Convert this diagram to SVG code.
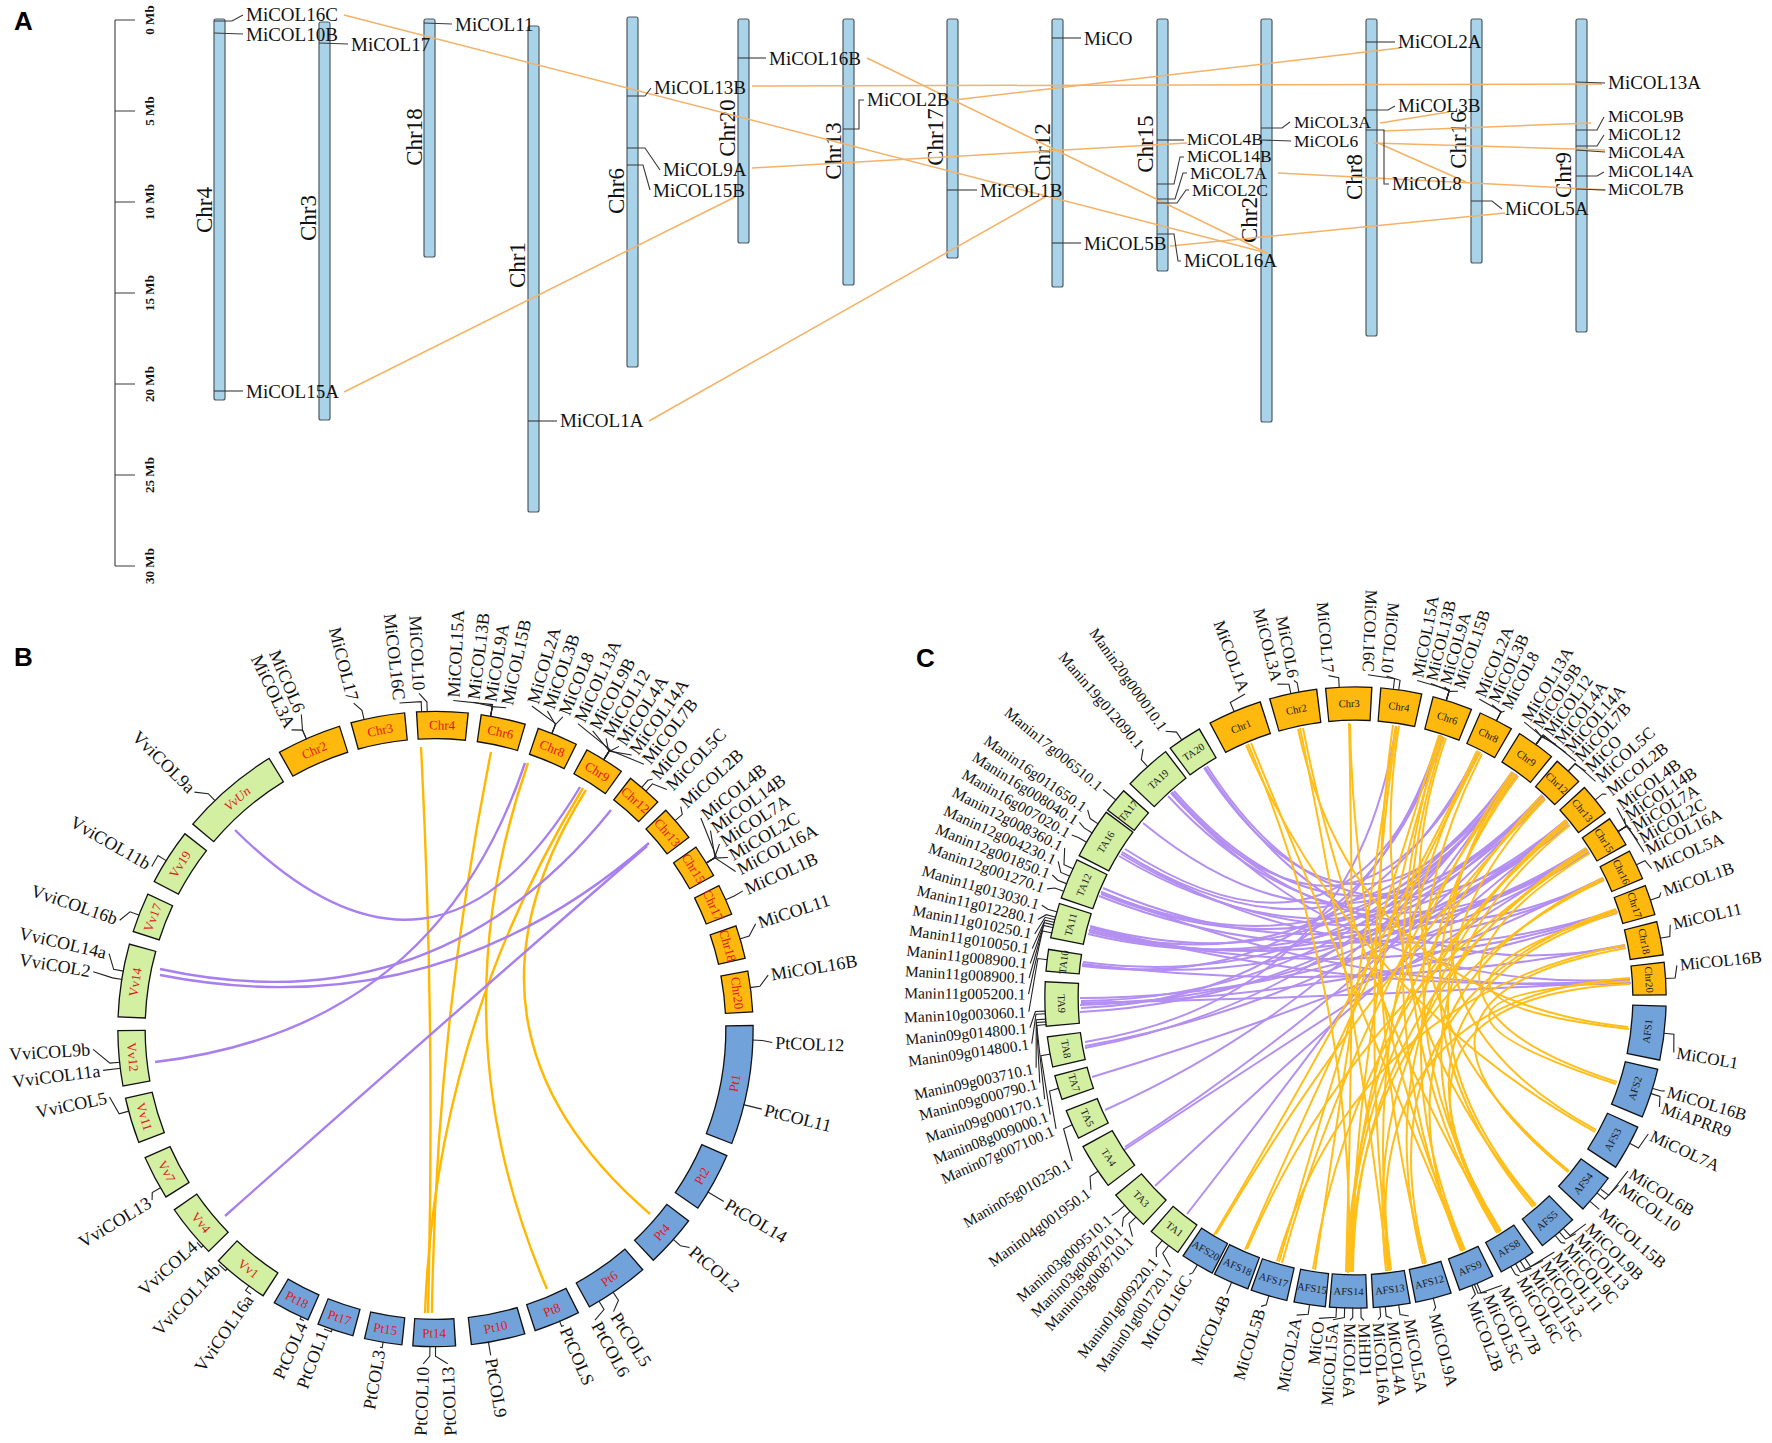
<svg xmlns="http://www.w3.org/2000/svg" width="1772" height="1443" viewBox="0 0 1772 1443">
<style>
.t{font-family:"Liberation Serif","Times New Roman",serif;fill:#111}
.ga{font-size:19px}
.gs{font-size:17.5px}
.gc{font-size:23px}
.sc{font-size:13px;font-weight:bold}
.pl{font-family:"Liberation Sans",Arial,sans-serif;font-weight:bold;font-size:26px;fill:#000}
.bl{font-size:18px;dominant-baseline:central}
.cm{font-size:17px;dominant-baseline:central}
.cn{font-size:15.5px;dominant-baseline:central}
.sb{font-size:13px;fill:#e3171b;text-anchor:middle;dominant-baseline:central}
.s2{font-size:10.5px;fill:#1a1a1a;text-anchor:middle;dominant-baseline:central}
.ld{fill:none;stroke:#222;stroke-width:1.1}
.bar{fill:#a9d3e8;stroke:#4f5a63;stroke-width:1.2}
.tk{fill:none;stroke:#3a3a3a;stroke-width:1.1}
.ln{fill:none;stroke:#f5b165;stroke-width:1.5}
.k{fill:none;stroke:#111}
.mo{fill:none;stroke:#ffb80d}
.gr{fill:none;stroke:#d3efa1}
.bu{fill:none;stroke:#72a2da}
.lo{fill:none;stroke:#ffb700;stroke-width:2.4}
.lp{fill:none;stroke:#a77ff0;stroke-width:2.4}
.lo2{fill:none;stroke:#ffbe1a;stroke-width:2}
.lp2{fill:none;stroke:#b48ff2;stroke-width:2}
.e{text-anchor:end}
</style>
<rect width="1772" height="1443" fill="#fff"/>

<!-- ================= PANEL A ================= -->
<text class="pl" x="14" y="30">A</text>
<g id="scale">
<path class="tk" d="M115 20V566M115 20H135M115 111H135M115 202H135M115 293H135M115 384H135M115 475H135M115 566H135"/>
<g class="t sc" text-anchor="middle">
<text transform="translate(154,20) rotate(-90)">0 Mb</text>
<text transform="translate(154,111) rotate(-90)">5 Mb</text>
<text transform="translate(154,202) rotate(-90)">10 Mb</text>
<text transform="translate(154,293) rotate(-90)">15 Mb</text>
<text transform="translate(154,384) rotate(-90)">20 Mb</text>
<text transform="translate(154,475) rotate(-90)">25 Mb</text>
<text transform="translate(154,566) rotate(-90)">30 Mb</text>
</g>
</g>

<g id="A-chromosomes">
<g id="A-Chr4"><rect class="bar" x="214" y="19" width="11" height="381" rx="2"/><text class="t gc" text-anchor="middle" transform="translate(212,210) rotate(-90)">Chr4</text></g>
<g id="A-Chr3"><rect class="bar" x="319" y="22" width="11" height="398" rx="2"/><text class="t gc" text-anchor="middle" transform="translate(316,218) rotate(-90)">Chr3</text></g>
<g id="A-Chr18"><rect class="bar" x="424" y="19" width="11" height="238" rx="2"/><text class="t gc" text-anchor="middle" transform="translate(422,137) rotate(-90)">Chr18</text></g>
<g id="A-Chr1"><rect class="bar" x="528" y="26" width="11" height="486" rx="2"/><text class="t gc" text-anchor="middle" transform="translate(525,265) rotate(-90)">Chr1</text></g>
<g id="A-Chr6"><rect class="bar" x="627" y="17" width="11" height="350" rx="2"/><text class="t gc" text-anchor="middle" transform="translate(624,191) rotate(-90)">Chr6</text></g>
<g id="A-Chr20"><rect class="bar" x="738" y="19" width="11" height="224" rx="2"/><text class="t gc" text-anchor="middle" transform="translate(735,128) rotate(-90)">Chr20</text></g>
<g id="A-Chr13"><rect class="bar" x="843" y="19" width="11" height="266" rx="2"/><text class="t gc" text-anchor="middle" transform="translate(841,151) rotate(-90)">Chr13</text></g>
<g id="A-Chr17"><rect class="bar" x="947" y="19" width="11" height="239" rx="2"/><text class="t gc" text-anchor="middle" transform="translate(943,137) rotate(-90)">Chr17</text></g>
<g id="A-Chr12"><rect class="bar" x="1052" y="19" width="11" height="268" rx="2"/><text class="t gc" text-anchor="middle" transform="translate(1050,152) rotate(-90)">Chr12</text></g>
<g id="A-Chr15"><rect class="bar" x="1157" y="19" width="11" height="252" rx="2"/><text class="t gc" text-anchor="middle" transform="translate(1153,144) rotate(-90)">Chr15</text></g>
<g id="A-Chr2"><rect class="bar" x="1261" y="19" width="11" height="403" rx="2"/><text class="t gc" text-anchor="middle" transform="translate(1257,220) rotate(-90)">Chr2</text></g>
<g id="A-Chr8"><rect class="bar" x="1366" y="19" width="11" height="317" rx="2"/><text class="t gc" text-anchor="middle" transform="translate(1362,177) rotate(-90)">Chr8</text></g>
<g id="A-Chr16"><rect class="bar" x="1471" y="19" width="11" height="244" rx="2"/><text class="t gc" text-anchor="middle" transform="translate(1466,140) rotate(-90)">Chr16</text></g>
<g id="A-Chr9"><rect class="bar" x="1576" y="19" width="11" height="313" rx="2"/><text class="t gc" text-anchor="middle" transform="translate(1571,175) rotate(-90)">Chr9</text></g>
</g>

<g id="A-connectors">
<path class="ln" d="M344 15L1267 253"/>
<path class="ln" d="M752 86L1602 84"/>
<path class="ln" d="M752 168L1187 143"/>
<path class="ln" d="M735 197L344 392"/>
<path class="ln" d="M649 421L1045 197"/>
<path class="ln" d="M867 58L1267 253"/>
<path class="ln" d="M954 100L1400 48"/>
<path class="ln" d="M1170 246L1505 213"/>
<path class="ln" d="M1278 173L1606 190"/>
<path class="ln" d="M1373 143L1605 150"/>
<path class="ln" d="M1383 131L1591 123"/>
<path class="ln" d="M1380 123L1449 112"/>
<path class="ln" d="M1378 143L1466 182"/>
</g>

<g id="A-genes">
<g class="tk">
<polyline points="214,21 232,21 243,15"/><polyline points="214,33 243,34"/><polyline points="214,391 243,391"/>
<polyline points="319,43 348,44"/><polyline points="424,23 452,24"/><polyline points="528,421 557,421"/>
<polyline points="627,96 645,96 651,88"/><polyline points="627,148 645,148 660,170"/><polyline points="627,165 643,165 650,190"/>
<polyline points="738,58 766,58"/><polyline points="843,129 859,129 859,100 864,100"/><polyline points="947,190 977,190"/>
<polyline points="1052,38 1081,38"/><polyline points="1052,243 1081,243"/>
<polyline points="1157,140 1184,140"/><polyline points="1157,184 1174,184 1180,157 1184,157"/><polyline points="1157,199 1175,199 1183,173 1187,173"/><polyline points="1157,203 1177,203 1186,190 1189,190"/><polyline points="1157,234 1174,234 1178,261 1181,261"/>
<polyline points="1261,128 1282,128 1290,122"/><polyline points="1261,140 1291,141"/>
<polyline points="1366,42 1395,42"/><polyline points="1366,110 1388,110 1395,106"/><polyline points="1366,130 1384,130 1384,184 1389,184"/>
<polyline points="1471,201 1492,201 1502,209"/>
<polyline points="1576,82 1605,83"/><polyline points="1576,130 1597,130 1604,117"/><polyline points="1576,146 1597,146 1604,135"/><polyline points="1576,150 1605,152"/><polyline points="1576,176 1597,176 1604,172"/><polyline points="1576,189 1605,190"/>
</g>
<g class="t ga">
<text x="246" y="21">MiCOL16C</text><text x="246" y="41">MiCOL10B</text><text x="246" y="398">MiCOL15A</text>
<text x="351" y="51">MiCOL17</text><text x="455" y="31">MiCOL11</text><text x="560" y="427">MiCOL1A</text>
<text x="654" y="94">MiCOL13B</text><text x="663" y="176">MiCOL9A</text><text x="653" y="197">MiCOL15B</text>
<text x="769" y="65">MiCOL16B</text><text x="867" y="106">MiCOL2B</text><text x="980" y="197">MiCOL1B</text>
<text x="1084" y="45">MiCO</text><text x="1084" y="250">MiCOL5B</text>
<text class="gs" x="1187" y="145">MiCOL4B</text><text class="gs" x="1187" y="162">MiCOL14B</text><text class="gs" x="1190" y="179">MiCOL7A</text><text class="gs" x="1192" y="196">MiCOL2C</text><text x="1184" y="267">MiCOL16A</text>
<text class="gs" x="1294" y="128">MiCOL3A</text><text class="gs" x="1294" y="147">MiCOL6</text>
<text x="1398" y="48">MiCOL2A</text><text x="1398" y="112">MiCOL3B</text><text x="1392" y="190">MiCOL8</text>
<text x="1505" y="215">MiCOL5A</text>
<text x="1608" y="89">MiCOL13A</text><text class="gs" x="1608" y="122">MiCOL9B</text><text class="gs" x="1608" y="140">MiCOL12</text><text class="gs" x="1608" y="158">MiCOL4A</text><text class="gs" x="1608" y="177">MiCOL14A</text><text class="gs" x="1608" y="195">MiCOL7B</text>
</g>
</g>

<!-- ================= PANEL B ================= -->
<text class="pl" x="14" y="666">B</text>
<g id="B-connectors">
<path class="lo" d="M421 747Q435.5 1029 428 1313"/>
<path class="lo" d="M491 752Q435.5 1029 432 1313"/>
<path class="lo" d="M583 788Q435.5 1029 425 1313"/>
<path class="lo" d="M528 763Q435.5 1029 547 1289"/>
<path class="lo" d="M586 790Q435.5 1029 650 1214"/>
<path class="lp" d="M235 830Q435.5 1029 580 787"/>
<path class="lp" d="M160 969Q435.5 1029 611 810"/>
<path class="lp" d="M160 975Q435.5 1029 649 843"/>
<path class="lp" d="M155 1062Q435.5 1029 525 763"/>
<path class="lp" d="M225 1216Q435.5 1029 647 846"/>
</g>
<g transform="translate(435.5,1029)">
<g id="B-segments">
<g id="B-Chr2"><circle class="k" r="304" stroke-width="28.6" stroke-dasharray="64.15 3000" transform="rotate(240.45)"/><circle class="mo" r="304" stroke-width="26" stroke-dasharray="61.55 3000" transform="rotate(240.7)"/><text class="t sb" transform="rotate(336.5)" y="-304">Chr2</text></g>
<g id="B-Chr3"><circle class="k" r="304" stroke-width="28.6" stroke-dasharray="53.54 3000" transform="rotate(254.45)"/><circle class="mo" r="304" stroke-width="26" stroke-dasharray="50.94 3000" transform="rotate(254.7)"/><text class="t sb" transform="rotate(349.5)" y="-304">Chr3</text></g>
<g id="B-Chr4"><circle class="k" r="304" stroke-width="28.6" stroke-dasharray="50.88 3000" transform="rotate(-93.55)"/><circle class="mo" r="304" stroke-width="26" stroke-dasharray="48.28 3000" transform="rotate(-93.3)"/><text class="t sb" transform="rotate(1.25)" y="-304">Chr4</text></g>
<g id="B-Chr6"><circle class="k" r="304" stroke-width="28.6" stroke-dasharray="44.52 3000" transform="rotate(-81.85)"/><circle class="mo" r="304" stroke-width="26" stroke-dasharray="41.92 3000" transform="rotate(-81.6)"/><text class="t sb" transform="rotate(12.35)" y="-304">Chr6</text></g>
<g id="B-Chr8"><circle class="k" r="304" stroke-width="28.6" stroke-dasharray="40.8 3000" transform="rotate(-71.25)"/><circle class="mo" r="304" stroke-width="26" stroke-dasharray="38.2 3000" transform="rotate(-71)"/><text class="t sb" transform="rotate(22.6)" y="-304">Chr8</text></g>
<g id="B-Chr9"><circle class="k" r="304" stroke-width="28.6" stroke-dasharray="40.27 3000" transform="rotate(-61.65)"/><circle class="mo" r="304" stroke-width="26" stroke-dasharray="37.67 3000" transform="rotate(-61.4)"/><text class="t sb" transform="rotate(32.15)" y="-304">Chr9</text></g>
<g id="B-Chr12"><circle class="k" r="304" stroke-width="28.6" stroke-dasharray="36.03 3000" transform="rotate(-52.25)"/><circle class="mo" r="304" stroke-width="26" stroke-dasharray="33.43 3000" transform="rotate(-52)"/><text class="t sb" transform="rotate(41.15)" y="-304">Chr12</text></g>
<g id="B-Chr13"><circle class="k" r="304" stroke-width="28.6" stroke-dasharray="35.5 3000" transform="rotate(-43.65)"/><circle class="mo" r="304" stroke-width="26" stroke-dasharray="32.9 3000" transform="rotate(-43.4)"/><text class="t sb" transform="rotate(49.7)" y="-304">Chr13</text></g>
<g id="B-Chr15"><circle class="k" r="304" stroke-width="28.6" stroke-dasharray="33.37 3000" transform="rotate(-35.05)"/><circle class="mo" r="304" stroke-width="26" stroke-dasharray="30.77 3000" transform="rotate(-34.8)"/><text class="t sb" transform="rotate(58.1)" y="-304">Chr15</text></g>
<g id="B-Chr17"><circle class="k" r="304" stroke-width="28.6" stroke-dasharray="31.25 3000" transform="rotate(-26.95)"/><circle class="mo" r="304" stroke-width="26" stroke-dasharray="28.65 3000" transform="rotate(-26.7)"/><text class="t sb" transform="rotate(66)" y="-304">Chr17</text></g>
<g id="B-Chr18"><circle class="k" r="304" stroke-width="28.6" stroke-dasharray="33.37 3000" transform="rotate(-19.05)"/><circle class="mo" r="304" stroke-width="26" stroke-dasharray="30.77 3000" transform="rotate(-18.8)"/><text class="t sb" transform="rotate(74.1)" y="-304">Chr18</text></g>
<g id="B-Chr20"><circle class="k" r="304" stroke-width="28.6" stroke-dasharray="40.8 3000" transform="rotate(-10.65)"/><circle class="mo" r="304" stroke-width="26" stroke-dasharray="38.2 3000" transform="rotate(-10.4)"/><text class="t sb" transform="rotate(83.2)" y="-304">Chr20</text></g>
<g id="B-Pt1"><circle class="k" r="304" stroke-width="28.6" stroke-dasharray="116.67 3000" transform="rotate(-0.75)"/><circle class="bu" r="304" stroke-width="26" stroke-dasharray="114.07 3000" transform="rotate(-0.5)"/><text class="t sb" transform="rotate(-79.75)" y="304">Pt1</text></g>
<g id="B-Pt2"><circle class="k" r="304" stroke-width="28.6" stroke-dasharray="58.84 3000" transform="rotate(23.35)"/><circle class="bu" r="304" stroke-width="26" stroke-dasharray="56.24 3000" transform="rotate(23.6)"/><text class="t sb" transform="rotate(-61.1)" y="304">Pt2</text></g>
<g id="B-Pt4"><circle class="k" r="304" stroke-width="28.6" stroke-dasharray="51.94 3000" transform="rotate(37.05)"/><circle class="bu" r="304" stroke-width="26" stroke-dasharray="49.34 3000" transform="rotate(37.3)"/><text class="t sb" transform="rotate(-48.05)" y="304">Pt4</text></g>
<g id="B-Pt6"><circle class="k" r="304" stroke-width="28.6" stroke-dasharray="63.62 3000" transform="rotate(49.15)"/><circle class="bu" r="304" stroke-width="26" stroke-dasharray="61.02 3000" transform="rotate(49.4)"/><text class="t sb" transform="rotate(-34.85)" y="304">Pt6</text></g>
<g id="B-Pt8"><circle class="k" r="304" stroke-width="28.6" stroke-dasharray="46.11 3000" transform="rotate(63.15)"/><circle class="bu" r="304" stroke-width="26" stroke-dasharray="43.51 3000" transform="rotate(63.4)"/><text class="t sb" transform="rotate(-22.5)" y="304">Pt8</text></g>
<g id="B-Pt10"><circle class="k" r="304" stroke-width="28.6" stroke-dasharray="53.54 3000" transform="rotate(73.55)"/><circle class="bu" r="304" stroke-width="26" stroke-dasharray="50.94 3000" transform="rotate(73.8)"/><text class="t sb" transform="rotate(-11.4)" y="304">Pt10</text></g>
<g id="B-Pt14"><circle class="k" r="304" stroke-width="28.6" stroke-dasharray="42.39 3000" transform="rotate(86.25)"/><circle class="bu" r="304" stroke-width="26" stroke-dasharray="39.79 3000" transform="rotate(86.5)"/><text class="t sb" transform="rotate(0.25)" y="304">Pt14</text></g>
<g id="B-Pt15"><circle class="k" r="304" stroke-width="28.6" stroke-dasharray="37.62 3000" transform="rotate(95.95)"/><circle class="bu" r="304" stroke-width="26" stroke-dasharray="35.02 3000" transform="rotate(96.2)"/><text class="t sb" transform="rotate(9.5)" y="304">Pt15</text></g>
<g id="B-Pt17"><circle class="k" r="304" stroke-width="28.6" stroke-dasharray="36.56 3000" transform="rotate(104.95)"/><circle class="bu" r="304" stroke-width="26" stroke-dasharray="33.96 3000" transform="rotate(105.2)"/><text class="t sb" transform="rotate(18.4)" y="304">Pt17</text></g>
<g id="B-Pt18"><circle class="k" r="304" stroke-width="28.6" stroke-dasharray="37.62 3000" transform="rotate(113.55)"/><circle class="bu" r="304" stroke-width="26" stroke-dasharray="35.02 3000" transform="rotate(113.8)"/><text class="t sb" transform="rotate(27.1)" y="304">Pt18</text></g>
<g id="B-Vv1"><circle class="k" r="304" stroke-width="28.6" stroke-dasharray="55.66 3000" transform="rotate(122.75)"/><circle class="gr" r="304" stroke-width="26" stroke-dasharray="53.06 3000" transform="rotate(123)"/><text class="t sb" transform="rotate(38)" y="304">Vv1</text></g>
<g id="B-Vv4"><circle class="k" r="304" stroke-width="28.6" stroke-dasharray="53.01 3000" transform="rotate(135.45)"/><circle class="gr" r="304" stroke-width="26" stroke-dasharray="50.41 3000" transform="rotate(135.7)"/><text class="t sb" transform="rotate(50.45)" y="304">Vv4</text></g>
<g id="B-Vv7"><circle class="k" r="304" stroke-width="28.6" stroke-dasharray="43.99 3000" transform="rotate(147.95)"/><circle class="gr" r="304" stroke-width="26" stroke-dasharray="41.39 3000" transform="rotate(148.2)"/><text class="t sb" transform="rotate(62.1)" y="304">Vv7</text></g>
<g id="B-Vv11"><circle class="k" r="304" stroke-width="28.6" stroke-dasharray="45.58 3000" transform="rotate(158.95)"/><circle class="gr" r="304" stroke-width="26" stroke-dasharray="42.98 3000" transform="rotate(159.2)"/><text class="t sb" transform="rotate(73.25)" y="304">Vv11</text></g>
<g id="B-Vv12"><circle class="k" r="304" stroke-width="28.6" stroke-dasharray="54.6 3000" transform="rotate(169.55)"/><circle class="gr" r="304" stroke-width="26" stroke-dasharray="52 3000" transform="rotate(169.8)"/><text class="t sb" transform="rotate(84.7)" y="304">Vv12</text></g>
<g id="B-Vv14"><circle class="k" r="304" stroke-width="28.6" stroke-dasharray="72.11 3000" transform="rotate(182.05)"/><circle class="gr" r="304" stroke-width="26" stroke-dasharray="69.51 3000" transform="rotate(182.3)"/><text class="t sb" transform="rotate(278.85)" y="-304">Vv14</text></g>
<g id="B-Vv17"><circle class="k" r="304" stroke-width="28.6" stroke-dasharray="39.74 3000" transform="rotate(197.75)"/><circle class="gr" r="304" stroke-width="26" stroke-dasharray="37.14 3000" transform="rotate(198)"/><text class="t sb" transform="rotate(291.5)" y="-304">Vv17</text></g>
<g id="B-Vv19"><circle class="k" r="304" stroke-width="28.6" stroke-dasharray="55.66 3000" transform="rotate(207.55)"/><circle class="gr" r="304" stroke-width="26" stroke-dasharray="53.06 3000" transform="rotate(207.8)"/><text class="t sb" transform="rotate(302.8)" y="-304">Vv19</text></g>
<g id="B-VvUn"><circle class="k" r="304" stroke-width="28.6" stroke-dasharray="98.1 3000" transform="rotate(220.05)"/><circle class="gr" r="304" stroke-width="26" stroke-dasharray="95.5 3000" transform="rotate(220.3)"/><text class="t sb" font-style="italic" transform="rotate(319.3)" y="-304">VvUn</text></g>
</g>
<g id="B-labels">
<g transform="rotate(-86.9)"><polyline class="ld" points="317,38.2 327,39.4 329,0"/><text class="t bl" x="332">MiCOL15A</text></g>
<g transform="rotate(-83.4)"><polyline class="ld" points="317,18.8 327,19.4 329,0"/><text class="t bl" x="332">MiCOL13B</text></g>
<g transform="rotate(-80.5)"><polyline class="ld" points="317,2.8 327,2.9 329,0"/><text class="t bl" x="332">MiCOL9A</text></g>
<g transform="rotate(-77.6)"><polyline class="ld" points="317,-13.3 327,-13.7 329,0"/><text class="t bl" x="332">MiCOL15B</text></g>
<g transform="rotate(-73.4)"><polyline class="ld" points="317,27.1 327,28 337,0"/><text class="t bl" x="340">MiCOL2A</text></g>
<g transform="rotate(-70.6)"><polyline class="ld" points="317,11.6 327,12 337,0"/><text class="t bl" x="340">MiCOL3B</text></g>
<g transform="rotate(-67.8)"><polyline class="ld" points="317,-3.9 327,-4 337,0"/><text class="t bl" x="340">MiCOL8</text></g>
<g transform="rotate(-65)"><polyline class="ld" points="317,38.7 327,40 337,0"/><text class="t bl" x="340">MiCOL13A</text></g>
<g transform="rotate(-62.2)"><polyline class="ld" points="317,23.2 327,24 337,0"/><text class="t bl" x="340">MiCOL9B</text></g>
<g transform="rotate(-59.6)"><polyline class="ld" points="317,8.9 327,9.1 337,0"/><text class="t bl" x="340">MiCOL12</text></g>
<g transform="rotate(-57)"><polyline class="ld" points="317,-5.5 327,-5.7 337,0"/><text class="t bl" x="340">MiCOL4A</text></g>
<g transform="rotate(-54.4)"><polyline class="ld" points="317,-19.9 327,-20.5 337,0"/><text class="t bl" x="340">MiCOL14A</text></g>
<g transform="rotate(-51.8)"><polyline class="ld" points="317,-34.3 327,-35.4 337,0"/><text class="t bl" x="340">MiCOL7B</text></g>
<g transform="rotate(-49)"><polyline class="ld" points="317,-2.8 327,-2.9 331,0"/><text class="t bl" x="334">MiCO</text></g>
<g transform="rotate(-46)"><polyline class="ld" points="317,-13.8 327,-14.3 333,0"/><text class="t bl" x="336">MiCOL5C</text></g>
<g transform="rotate(-42.2)"><polyline class="ld" points="317,6.6 327,6.8 331,0"/><text class="t bl" x="334">MiCOL2B</text></g>
<g transform="rotate(-38.5)"><polyline class="ld" points="317,38.7 327,40 339,0"/><text class="t bl" x="342">MiCOL4B</text></g>
<g transform="rotate(-35.8)"><polyline class="ld" points="317,23.8 327,24.5 339,0"/><text class="t bl" x="342">MiCOL14B</text></g>
<g transform="rotate(-33.1)"><polyline class="ld" points="317,8.9 327,9.1 339,0"/><text class="t bl" x="342">MiCOL7A</text></g>
<g transform="rotate(-30.4)"><polyline class="ld" points="317,-6.1 327,-6.3 339,0"/><text class="t bl" x="342">MiCOL2C</text></g>
<g transform="rotate(-27.7)"><polyline class="ld" points="317,-21 327,-21.7 339,0"/><text class="t bl" x="342">MiCOL16A</text></g>
<g transform="rotate(-24.2)"><polyline class="ld" points="317,1.1 327,1.1 337,0"/><text class="t bl" x="340">MiCOL1B</text></g>
<g transform="rotate(-18.2)"><polyline class="ld" points="317,9.4 327,9.7 337,0"/><text class="t bl" x="340">MiCOL11</text></g>
<g transform="rotate(-9.2)"><polyline class="ld" points="317,9.4 327,9.7 337,0"/><text class="t bl" x="340">MiCOL16B</text></g>
<g transform="rotate(2.3)"><polyline class="ld" points="317,-1.7 327,-1.7 337,0"/><text class="t bl" x="340">PtCOL12</text></g>
<g transform="rotate(13.8)"><polyline class="ld" points="317,0 336,0"/><text class="t bl" x="339">PtCOL11</text></g>
<g transform="rotate(30.9)"><polyline class="ld" points="317,0 336,0"/><text class="t bl" x="339">PtCOL14</text></g>
<g transform="rotate(40.7)"><polyline class="ld" points="317,4.4 327,4.6 335,0"/><text class="t bl" x="338">PtCOL2</text></g>
<g transform="rotate(57.8)"><polyline class="ld" points="317,-10 327,-10.3 334,0"/><text class="t bl" x="337">PtCOL5</text></g>
<g transform="rotate(61.3)"><polyline class="ld" points="317,-12.7 327,-13.1 332,0"/><text class="t bl" x="335">PtCOL6</text></g>
<g transform="rotate(66.6)"><polyline class="ld" points="317,2.2 323,2.3 323,0"/><text class="t bl" x="326">PtCOLS</text></g>
<g transform="rotate(80.4)"><polyline class="ld" points="317,0 331,0"/><text class="t bl" x="334">PtCOL9</text></g>
<g transform="rotate(87.9)"><polyline class="ld" points="317,11.6 327,12 335,0"/><text class="t bl e" transform="rotate(180)" x="-338">PtCOL13</text></g>
<g transform="rotate(92.1)"><polyline class="ld" points="317,-6.1 327,-6.3 335,0"/><text class="t bl e" transform="rotate(180)" x="-338">PtCOL10</text></g>
<g transform="rotate(99.9)"><polyline class="ld" points="317,-2.2 323,-2.3 323,0"/><text class="t bl e" transform="rotate(180)" x="-326">PtCOL3</text></g>
<g transform="rotate(110.4)"><polyline class="ld" points="317,-7.7 320,-8 320,0"/><text class="t bl e" transform="rotate(180)" x="-323">PtCOL1</text></g>
<g transform="rotate(114.3)"><polyline class="ld" points="317,3.9 320,4 320,0"/><text class="t bl e" transform="rotate(180)" x="-323">PtCOL4</text></g>
<g transform="rotate(124.8)"><polyline class="ld" points="317,6.6 323,6.8 323,0"/><text class="t bl e" transform="rotate(180)" x="-326">VviCOL16a</text></g>
<g transform="rotate(132.6)"><polyline class="ld" points="317,-8.9 320,-9.1 320,0"/><text class="t bl e" transform="rotate(180)" x="-323">VviCOL14b</text></g>
<g transform="rotate(138.2)"><polyline class="ld" points="317,-6.6 320,-6.8 320,0"/><text class="t bl e" transform="rotate(180)" x="-323">VviCOL4</text></g>
<g transform="rotate(148.9)"><polyline class="ld" points="317,6.1 327,6.3 331,0"/><text class="t bl e" transform="rotate(180)" x="-334">VviCOL13</text></g>
<g transform="rotate(168.2)"><polyline class="ld" points="317,-17.7 327,-18.3 333,0"/><text class="t bl e" transform="rotate(180)" x="-336">VviCOL5</text></g>
<g transform="rotate(172.9)"><polyline class="ld" points="317,0 335,0"/><text class="t bl e" transform="rotate(180)" x="-338">VviCOL11a</text></g>
<g transform="rotate(176.6)"><polyline class="ld" points="317,-14.4 327,-14.8 343,0"/><text class="t bl e" transform="rotate(180)" x="-346">VviCOL9b</text></g>
<g transform="rotate(189.5)"><polyline class="ld" points="317,-2.8 327,-2.9 347,0"/><text class="t bl e" transform="rotate(180)" x="-350">VviCOL2</text></g>
<g transform="rotate(193)"><polyline class="ld" points="317,-13.8 327,-14.3 335,0"/><text class="t bl e" transform="rotate(180)" x="-338">VviCOL14a</text></g>
<g transform="rotate(199)"><polyline class="ld" points="317,11.1 327,11.4 334,0"/><text class="t bl e" transform="rotate(180)" x="-337">VviCOL16b</text></g>
<g transform="rotate(209.8)"><polyline class="ld" points="317,12.2 327,12.6 327,0"/><text class="t bl e" transform="rotate(180)" x="-330">VviCOL11b</text></g>
<g transform="rotate(224.5)"><polyline class="ld" points="317,8.3 327,8.6 338,0"/><text class="t bl e" transform="rotate(180)" x="-341">VviCOL9a</text></g>
<g transform="rotate(244.3)"><polyline class="ld" points="317,9.4 327,9.7 332,0"/><text class="t bl e" transform="rotate(180)" x="-335">MiCOL3A</text></g>
<g transform="rotate(246.9)"><polyline class="ld" points="317,-5 327,-5.1 342,0"/><text class="t bl e" transform="rotate(180)" x="-345">MiCOL6</text></g>
<g transform="rotate(255.9)"><polyline class="ld" points="317,6.1 327,6.3 336,0"/><text class="t bl e" transform="rotate(180)" x="-339">MiCOL17</text></g>
<g transform="rotate(263.7)"><polyline class="ld" points="317,21 327,21.7 328,0"/><text class="t bl e" transform="rotate(180)" x="-331">MiCOL16C</text></g>
<g transform="rotate(267.2)"><polyline class="ld" points="317,7.2 327,7.4 336,0"/><text class="t bl e" transform="rotate(180)" x="-339">MiCOL10</text></g>
</g>
</g>

<!-- ================= PANEL C ================= -->
<text class="pl" x="916" y="667">C</text>
<g id="C-connectors">
<g class="lp2">
<path d="M1204 768Q1355.5 997.5 1515 774"/>
<path d="M1207 766Q1355.5 997.5 1568 823"/>
<path d="M1171 793Q1355.5 997.5 1480 752"/>
<path d="M1174 791Q1355.5 997.5 1544 797"/>
<path d="M1168 796Q1355.5 997.5 1588 851"/>
<path d="M1122 852Q1355.5 997.5 1512 772"/>
<path d="M1125 849Q1355.5 997.5 1442 736"/>
<path d="M1119 856Q1355.5 997.5 1566 820"/>
<path d="M1143 823Q1355.5 997.5 1542 795"/>
<path d="M1101 892Q1355.5 997.5 1518 776"/>
<path d="M1103 888Q1355.5 997.5 1586 848"/>
<path d="M1099 896Q1355.5 997.5 1604 880"/>
<path d="M1089 930Q1355.5 997.5 1478 751"/>
<path d="M1090 926Q1355.5 997.5 1513 772"/>
<path d="M1088 934Q1355.5 997.5 1545 799"/>
<path d="M1090 928Q1355.5 997.5 1617 911"/>
<path d="M1089 932Q1355.5 997.5 1569 825"/>
<path d="M1082 964Q1355.5 997.5 1625 945"/>
<path d="M1083 962Q1355.5 997.5 1516 775"/>
<path d="M1081 1003Q1355.5 997.5 1630 981"/>
<path d="M1080 998Q1355.5 997.5 1589 853"/>
<path d="M1081 1008Q1355.5 997.5 1440 735"/>
<path d="M1080 1012Q1355.5 997.5 1543 796"/>
<path d="M1085 1046Q1355.5 997.5 1567 822"/>
<path d="M1085 1042Q1355.5 997.5 1396 726"/>
<path d="M1092 1077Q1355.5 997.5 1603 878"/>
<path d="M1105 1110Q1355.5 997.5 1514 773"/>
<path d="M1125 1147Q1355.5 997.5 1544 798"/>
<path d="M1155 1186Q1355.5 997.5 1568 823"/>
<path d="M1187 1214Q1355.5 997.5 1515 774"/>
<path d="M1171 793Q1355.5 997.5 1630 979"/>
<path d="M1122 852Q1355.5 997.5 1616 910"/>
<path d="M1101 892Q1355.5 997.5 1631 983"/>
<path d="M1082 966Q1355.5 997.5 1443 737"/>
<path d="M1081 1003Q1355.5 997.5 1617 913"/>
<path d="M1124 1150Q1355.5 997.5 1588 850"/>
<path d="M1089 930Q1355.5 997.5 1587 849"/>
<path d="M1091 927Q1355.5 997.5 1630 980"/>
<path d="M1081 1001Q1355.5 997.5 1517 775"/>
<path d="M1080 1005Q1355.5 997.5 1567 821"/>
<path d="M1101 894Q1355.5 997.5 1543 796"/>
<path d="M1121 854Q1355.5 997.5 1589 852"/>
<path d="M1082 965Q1355.5 997.5 1566 822"/>
<path d="M1085 1048Q1355.5 997.5 1516 774"/>
<path d="M1172 792Q1355.5 997.5 1604 879"/>
<path d="M1205 767Q1355.5 997.5 1625 946"/>
</g>
<g class="lo2">
<path d="M1248 744Q1355.5 997.5 1349 1272"/>
<path d="M1251 743Q1355.5 997.5 1463 1251"/>
<path d="M1300 728Q1355.5 997.5 1388 1271"/>
<path d="M1303 728Q1355.5 997.5 1499 1232"/>
<path d="M1349 723Q1355.5 997.5 1346 1272"/>
<path d="M1396 726Q1355.5 997.5 1315 1270"/>
<path d="M1393 725Q1355.5 997.5 1425 1264"/>
<path d="M1399 726Q1355.5 997.5 1535 1206"/>
<path d="M1442 736Q1355.5 997.5 1352 1272"/>
<path d="M1439 735Q1355.5 997.5 1279 1262"/>
<path d="M1444 737Q1355.5 997.5 1497 1233"/>
<path d="M1446 738Q1355.5 997.5 1569 1171"/>
<path d="M1480 752Q1355.5 997.5 1245 1250"/>
<path d="M1477 751Q1355.5 997.5 1391 1270"/>
<path d="M1482 754Q1355.5 997.5 1501 1231"/>
<path d="M1515 774Q1355.5 997.5 1282 1263"/>
<path d="M1512 772Q1355.5 997.5 1350 1272"/>
<path d="M1518 776Q1355.5 997.5 1465 1250"/>
<path d="M1516 775Q1355.5 997.5 1533 1207"/>
<path d="M1514 773Q1355.5 997.5 1596 1130"/>
<path d="M1544 797Q1355.5 997.5 1216 1234"/>
<path d="M1542 795Q1355.5 997.5 1347 1272"/>
<path d="M1568 823Q1355.5 997.5 1313 1269"/>
<path d="M1566 820Q1355.5 997.5 1423 1264"/>
<path d="M1570 825Q1355.5 997.5 1498 1232"/>
<path d="M1588 851Q1355.5 997.5 1247 1249"/>
<path d="M1586 848Q1355.5 997.5 1386 1271"/>
<path d="M1590 853Q1355.5 997.5 1617 1082"/>
<path d="M1604 880Q1355.5 997.5 1351 1272"/>
<path d="M1603 878Q1355.5 997.5 1461 1251"/>
<path d="M1617 911Q1355.5 997.5 1629 1029"/>
<path d="M1616 909Q1355.5 997.5 1426 1263"/>
<path d="M1625 945Q1355.5 997.5 1277 1261"/>
<path d="M1626 948Q1355.5 997.5 1568 1172"/>
<path d="M1630 981Q1355.5 997.5 1616 1084"/>
<path d="M1630 978Q1355.5 997.5 1389 1271"/>
<path d="M1630 984Q1355.5 997.5 1499 1233"/>
<path d="M1246 745Q1355.5 997.5 1595 1132"/>
<path d="M1545 799Q1355.5 997.5 1536 1205"/>
<path d="M1298 729Q1355.5 997.5 1628 1027"/>
<path d="M1478 751Q1355.5 997.5 1214 1235"/>
<path d="M1441 735Q1355.5 997.5 1462 1251"/>
<path d="M1567 821Q1355.5 997.5 1348 1273"/>
<path d="M1587 850Q1355.5 997.5 1353 1272"/>
<path d="M1397 727Q1355.5 997.5 1390 1271"/>
<path d="M1350 724Q1355.5 997.5 1464 1250"/>
<path d="M1618 912Q1355.5 997.5 1500 1232"/>
</g>
</g>
<g transform="translate(1355.5,997.5)">
<g id="C-segments">
<g id="C-Chr3"><circle class="k" r="294" stroke-width="34.6" stroke-dasharray="45.19 3000" transform="rotate(-95.65)"/><circle class="mo" r="294" stroke-width="32" stroke-dasharray="42.59 3000" transform="rotate(-95.4)"/><text class="t s2" transform="rotate(-1.25)" y="-294">Chr3</text></g>
<g id="C-Chr4"><circle class="k" r="294" stroke-width="34.6" stroke-dasharray="40.57 3000" transform="rotate(-85.45)"/><circle class="mo" r="294" stroke-width="32" stroke-dasharray="37.97 3000" transform="rotate(-85.2)"/><text class="t s2" transform="rotate(8.5)" y="-294">Chr4</text></g>
<g id="C-Chr6"><circle class="k" r="294" stroke-width="34.6" stroke-dasharray="39.55 3000" transform="rotate(-75.65)"/><circle class="mo" r="294" stroke-width="32" stroke-dasharray="36.95 3000" transform="rotate(-75.4)"/><text class="t s2" transform="rotate(18.2)" y="-294">Chr6</text></g>
<g id="C-Chr8"><circle class="k" r="294" stroke-width="34.6" stroke-dasharray="34.41 3000" transform="rotate(-66.45)"/><circle class="mo" r="294" stroke-width="32" stroke-dasharray="31.81 3000" transform="rotate(-66.2)"/><text class="t s2" transform="rotate(26.9)" y="-294">Chr8</text></g>
<g id="C-Chr9"><circle class="k" r="294" stroke-width="34.6" stroke-dasharray="38.52 3000" transform="rotate(-58.25)"/><circle class="mo" r="294" stroke-width="32" stroke-dasharray="35.92 3000" transform="rotate(-58)"/><text class="t s2" transform="rotate(35.5)" y="-294">Chr9</text></g>
<g id="C-Chr12"><circle class="k" r="294" stroke-width="34.6" stroke-dasharray="29.28 3000" transform="rotate(-49.65)"/><circle class="mo" r="294" stroke-width="32" stroke-dasharray="26.68 3000" transform="rotate(-49.4)"/><text class="t s2" transform="rotate(43.2)" y="-294">Chr12</text></g>
<g id="C-Chr13"><circle class="k" r="294" stroke-width="34.6" stroke-dasharray="32.36 3000" transform="rotate(-42.65)"/><circle class="mo" r="294" stroke-width="32" stroke-dasharray="29.76 3000" transform="rotate(-42.4)"/><text class="t s2" transform="rotate(50.5)" y="-294">Chr13</text></g>
<g id="C-Chr15"><circle class="k" r="294" stroke-width="34.6" stroke-dasharray="30.31 3000" transform="rotate(-35.25)"/><circle class="mo" r="294" stroke-width="32" stroke-dasharray="27.71 3000" transform="rotate(-35)"/><text class="t s2" transform="rotate(57.7)" y="-294">Chr15</text></g>
<g id="C-Chr16"><circle class="k" r="294" stroke-width="34.6" stroke-dasharray="30.31 3000" transform="rotate(-28.25)"/><circle class="mo" r="294" stroke-width="32" stroke-dasharray="27.71 3000" transform="rotate(-28)"/><text class="t s2" transform="rotate(64.7)" y="-294">Chr16</text></g>
<g id="C-Chr17"><circle class="k" r="294" stroke-width="34.6" stroke-dasharray="30.31 3000" transform="rotate(-21.25)"/><circle class="mo" r="294" stroke-width="32" stroke-dasharray="27.71 3000" transform="rotate(-21)"/><text class="t s2" transform="rotate(71.7)" y="-294">Chr17</text></g>
<g id="C-Chr18"><circle class="k" r="294" stroke-width="34.6" stroke-dasharray="33.39 3000" transform="rotate(-14.25)"/><circle class="mo" r="294" stroke-width="32" stroke-dasharray="30.79 3000" transform="rotate(-14)"/><text class="t s2" transform="rotate(79)" y="-294">Chr18</text></g>
<g id="C-Chr20"><circle class="k" r="294" stroke-width="34.6" stroke-dasharray="32.36 3000" transform="rotate(-6.65)"/><circle class="mo" r="294" stroke-width="32" stroke-dasharray="29.76 3000" transform="rotate(-6.4)"/><text class="t s2" transform="rotate(86.5)" y="-294">Chr20</text></g>
<g id="C-AFS1"><circle class="k" r="294" stroke-width="34.6" stroke-dasharray="52.89 3000" transform="rotate(1.45)"/><circle class="bu" r="294" stroke-width="32" stroke-dasharray="50.29 3000" transform="rotate(1.7)"/><text class="t s2" transform="rotate(-83.4)" y="294">AFS1</text></g>
<g id="C-AFS2"><circle class="k" r="294" stroke-width="34.6" stroke-dasharray="48.78 3000" transform="rotate(13.25)"/><circle class="bu" r="294" stroke-width="32" stroke-dasharray="46.18 3000" transform="rotate(13.5)"/><text class="t s2" transform="rotate(-72)" y="294">AFS2</text></g>
<g id="C-AFS3"><circle class="k" r="294" stroke-width="34.6" stroke-dasharray="44.68 3000" transform="rotate(24.55)"/><circle class="bu" r="294" stroke-width="32" stroke-dasharray="42.08 3000" transform="rotate(24.8)"/><text class="t s2" transform="rotate(-61.1)" y="294">AFS3</text></g>
<g id="C-AFS4"><circle class="k" r="294" stroke-width="34.6" stroke-dasharray="39.03 3000" transform="rotate(35.45)"/><circle class="bu" r="294" stroke-width="32" stroke-dasharray="36.43 3000" transform="rotate(35.7)"/><text class="t s2" transform="rotate(-50.75)" y="294">AFS4</text></g>
<g id="C-AFS5"><circle class="k" r="294" stroke-width="34.6" stroke-dasharray="39.03 3000" transform="rotate(45.55)"/><circle class="bu" r="294" stroke-width="32" stroke-dasharray="36.43 3000" transform="rotate(45.8)"/><text class="t s2" transform="rotate(-40.65)" y="294">AFS5</text></g>
<g id="C-AFS8"><circle class="k" r="294" stroke-width="34.6" stroke-dasharray="36.47 3000" transform="rotate(55.05)"/><circle class="bu" r="294" stroke-width="32" stroke-dasharray="33.87 3000" transform="rotate(55.3)"/><text class="t s2" transform="rotate(-31.4)" y="294">AFS8</text></g>
<g id="C-AFS9"><circle class="k" r="294" stroke-width="34.6" stroke-dasharray="35.44 3000" transform="rotate(63.65)"/><circle class="bu" r="294" stroke-width="32" stroke-dasharray="32.84 3000" transform="rotate(63.9)"/><text class="t s2" transform="rotate(-22.9)" y="294">AFS9</text></g>
<g id="C-AFS12"><circle class="k" r="294" stroke-width="34.6" stroke-dasharray="35.95 3000" transform="rotate(71.95)"/><circle class="bu" r="294" stroke-width="32" stroke-dasharray="33.35 3000" transform="rotate(72.2)"/><text class="t s2" transform="rotate(-14.55)" y="294">AFS12</text></g>
<g id="C-AFS13"><circle class="k" r="294" stroke-width="34.6" stroke-dasharray="36.47 3000" transform="rotate(79.75)"/><circle class="bu" r="294" stroke-width="32" stroke-dasharray="33.87 3000" transform="rotate(80)"/><text class="t s2" transform="rotate(-6.7)" y="294">AFS13</text></g>
<g id="C-AFS14"><circle class="k" r="294" stroke-width="34.6" stroke-dasharray="36.98 3000" transform="rotate(87.75)"/><circle class="bu" r="294" stroke-width="32" stroke-dasharray="34.38 3000" transform="rotate(88)"/><text class="t s2" transform="rotate(1.35)" y="294">AFS14</text></g>
<g id="C-AFS15"><circle class="k" r="294" stroke-width="34.6" stroke-dasharray="31.34 3000" transform="rotate(95.45)"/><circle class="bu" r="294" stroke-width="32" stroke-dasharray="28.74 3000" transform="rotate(95.7)"/><text class="t s2" transform="rotate(8.5)" y="294">AFS15</text></g>
<g id="C-AFS17"><circle class="k" r="294" stroke-width="34.6" stroke-dasharray="36.47 3000" transform="rotate(102.65)"/><circle class="bu" r="294" stroke-width="32" stroke-dasharray="33.87 3000" transform="rotate(102.9)"/><text class="t s2" transform="rotate(16.2)" y="294">AFS17</text></g>
<g id="C-AFS18"><circle class="k" r="294" stroke-width="34.6" stroke-dasharray="35.95 3000" transform="rotate(110.15)"/><circle class="bu" r="294" stroke-width="32" stroke-dasharray="33.35 3000" transform="rotate(110.4)"/><text class="t s2" transform="rotate(23.65)" y="294">AFS18</text></g>
<g id="C-AFS20"><circle class="k" r="294" stroke-width="34.6" stroke-dasharray="33.39 3000" transform="rotate(117.35)"/><circle class="bu" r="294" stroke-width="32" stroke-dasharray="30.79 3000" transform="rotate(117.6)"/><text class="t s2" transform="rotate(30.6)" y="294">AFS20</text></g>
<g id="C-TA1"><circle class="k" r="294" stroke-width="34.6" stroke-dasharray="33.39 3000" transform="rotate(124.75)"/><circle class="gr" r="294" stroke-width="32" stroke-dasharray="30.79 3000" transform="rotate(125)"/><text class="t s2" transform="rotate(38)" y="294">TA1</text></g>
<g id="C-TA3"><circle class="k" r="294" stroke-width="34.6" stroke-dasharray="39.55 3000" transform="rotate(132.95)"/><circle class="gr" r="294" stroke-width="32" stroke-dasharray="36.95 3000" transform="rotate(133.2)"/><text class="t s2" transform="rotate(46.8)" y="294">TA3</text></g>
<g id="C-TA4"><circle class="k" r="294" stroke-width="34.6" stroke-dasharray="45.19 3000" transform="rotate(142.65)"/><circle class="gr" r="294" stroke-width="32" stroke-dasharray="42.59 3000" transform="rotate(142.9)"/><text class="t s2" transform="rotate(57.05)" y="294">TA4</text></g>
<g id="C-TA5"><circle class="k" r="294" stroke-width="34.6" stroke-dasharray="29.8 3000" transform="rotate(152.95)"/><circle class="gr" r="294" stroke-width="32" stroke-dasharray="27.2 3000" transform="rotate(153.2)"/><text class="t s2" transform="rotate(65.85)" y="294">TA5</text></g>
<g id="C-TA7"><circle class="k" r="294" stroke-width="34.6" stroke-dasharray="24.66 3000" transform="rotate(160.75)"/><circle class="gr" r="294" stroke-width="32" stroke-dasharray="22.06 3000" transform="rotate(161)"/><text class="t s2" transform="rotate(73.15)" y="294">TA7</text></g>
<g id="C-TA8"><circle class="k" r="294" stroke-width="34.6" stroke-dasharray="30.31 3000" transform="rotate(166.95)"/><circle class="gr" r="294" stroke-width="32" stroke-dasharray="27.71 3000" transform="rotate(167.2)"/><text class="t s2" transform="rotate(79.9)" y="294">TA8</text></g>
<g id="C-TA9"><circle class="k" r="294" stroke-width="34.6" stroke-dasharray="43.65 3000" transform="rotate(174.55)"/><circle class="gr" r="294" stroke-width="32" stroke-dasharray="41.05 3000" transform="rotate(174.8)"/><text class="t s2" transform="rotate(88.8)" y="294">TA9</text></g>
<g id="C-TA10"><circle class="k" r="294" stroke-width="34.6" stroke-dasharray="22.1 3000" transform="rotate(184.75)"/><circle class="gr" r="294" stroke-width="32" stroke-dasharray="19.5 3000" transform="rotate(185)"/><text class="t s2" transform="rotate(276.9)" y="-294">TA10</text></g>
<g id="C-TA11"><circle class="k" r="294" stroke-width="34.6" stroke-dasharray="34.93 3000" transform="rotate(190.95)"/><circle class="gr" r="294" stroke-width="32" stroke-dasharray="32.33 3000" transform="rotate(191.2)"/><text class="t s2" transform="rotate(284.35)" y="-294">TA11</text></g>
<g id="C-TA12"><circle class="k" r="294" stroke-width="34.6" stroke-dasharray="40.57 3000" transform="rotate(198.55)"/><circle class="gr" r="294" stroke-width="32" stroke-dasharray="37.97 3000" transform="rotate(198.8)"/><text class="t s2" transform="rotate(292.5)" y="-294">TA12</text></g>
<g id="C-TA16"><circle class="k" r="294" stroke-width="34.6" stroke-dasharray="49.81 3000" transform="rotate(207.05)"/><circle class="gr" r="294" stroke-width="32" stroke-dasharray="47.21 3000" transform="rotate(207.3)"/><text class="t s2" transform="rotate(301.9)" y="-294">TA16</text></g>
<g id="C-TA17"><circle class="k" r="294" stroke-width="34.6" stroke-dasharray="25.18 3000" transform="rotate(216.95)"/><circle class="gr" r="294" stroke-width="32" stroke-dasharray="22.58 3000" transform="rotate(217.2)"/><text class="t s2" transform="rotate(309.4)" y="-294">TA17</text></g>
<g id="C-TA19"><circle class="k" r="294" stroke-width="34.6" stroke-dasharray="46.73 3000" transform="rotate(223.35)"/><circle class="gr" r="294" stroke-width="32" stroke-dasharray="44.13 3000" transform="rotate(223.6)"/><text class="t s2" transform="rotate(317.9)" y="-294">TA19</text></g>
<g id="C-TA20"><circle class="k" r="294" stroke-width="34.6" stroke-dasharray="34.41 3000" transform="rotate(233.25)"/><circle class="gr" r="294" stroke-width="32" stroke-dasharray="31.81 3000" transform="rotate(233.5)"/><text class="t s2" transform="rotate(326.6)" y="-294">TA20</text></g>
<g id="C-Chr1"><circle class="k" r="294" stroke-width="34.6" stroke-dasharray="52.89 3000" transform="rotate(241.95)"/><circle class="mo" r="294" stroke-width="32" stroke-dasharray="50.29 3000" transform="rotate(242.2)"/><text class="t s2" transform="rotate(337.1)" y="-294">Chr1</text></g>
<g id="C-Chr2"><circle class="k" r="294" stroke-width="34.6" stroke-dasharray="46.73 3000" transform="rotate(253.85)"/><circle class="mo" r="294" stroke-width="32" stroke-dasharray="44.13 3000" transform="rotate(254.1)"/><text class="t s2" transform="rotate(348.4)" y="-294">Chr2</text></g>
</g>
<g id="C-labels">
<g transform="rotate(-79)"><polyline class="ld" points="310,32.5 320,33.5 323,0"/><text class="t cm" x="326">MiCOL15A</text></g>
<g transform="rotate(-76.5)"><polyline class="ld" points="310,18.9 320,19.5 323,0"/><text class="t cm" x="326">MiCOL13B</text></g>
<g transform="rotate(-74)"><polyline class="ld" points="310,5.4 320,5.6 323,0"/><text class="t cm" x="326">MiCOL9A</text></g>
<g transform="rotate(-71.5)"><polyline class="ld" points="310,-8.1 320,-8.4 323,0"/><text class="t cm" x="326">MiCOL15B</text></g>
<g transform="rotate(-67.5)"><polyline class="ld" points="310,24.3 320,25.1 323,0"/><text class="t cm" x="326">MiCOL2A</text></g>
<g transform="rotate(-65)"><polyline class="ld" points="310,10.8 320,11.2 323,0"/><text class="t cm" x="326">MiCOL3B</text></g>
<g transform="rotate(-62.5)"><polyline class="ld" points="310,-2.7 320,-2.8 323,0"/><text class="t cm" x="326">MiCOL8</text></g>
<g transform="rotate(-58.5)"><polyline class="ld" points="310,21.6 320,22.3 323,0"/><text class="t cm" x="326">MiCOL13A</text></g>
<g transform="rotate(-56.2)"><polyline class="ld" points="310,9.2 320,9.5 323,0"/><text class="t cm" x="326">MiCOL9B</text></g>
<g transform="rotate(-53.9)"><polyline class="ld" points="310,-3.2 320,-3.4 323,0"/><text class="t cm" x="326">MiCOL12</text></g>
<g transform="rotate(-51.6)"><polyline class="ld" points="310,-15.7 320,-16.2 323,0"/><text class="t cm" x="326">MiCOL4A</text></g>
<g transform="rotate(-49.3)"><polyline class="ld" points="310,-28.1 320,-29 323,0"/><text class="t cm" x="326">MiCOL14A</text></g>
<g transform="rotate(-47)"><polyline class="ld" points="310,-40.6 320,-41.9 323,0"/><text class="t cm" x="326">MiCOL7B</text></g>
<g transform="rotate(-44.5)"><polyline class="ld" points="310,-12.4 320,-12.8 323,0"/><text class="t cm" x="326">MiCO</text></g>
<g transform="rotate(-42)"><polyline class="ld" points="310,-26 320,-26.8 323,0"/><text class="t cm" x="326">MiCOL5C</text></g>
<g transform="rotate(-39)"><polyline class="ld" points="310,-2.7 320,-2.8 323,0"/><text class="t cm" x="326">MiCOL2B</text></g>
<g transform="rotate(-36)"><polyline class="ld" points="310,20 320,20.7 323,0"/><text class="t cm" x="326">MiCOL4B</text></g>
<g transform="rotate(-33.7)"><polyline class="ld" points="310,7.6 320,7.8 323,0"/><text class="t cm" x="326">MiCOL14B</text></g>
<g transform="rotate(-31.4)"><polyline class="ld" points="310,-4.9 320,-5 323,0"/><text class="t cm" x="326">MiCOL7A</text></g>
<g transform="rotate(-29.1)"><polyline class="ld" points="310,-17.3 320,-17.9 323,0"/><text class="t cm" x="326">MiCOL2C</text></g>
<g transform="rotate(-26.8)"><polyline class="ld" points="310,-29.8 320,-30.7 323,0"/><text class="t cm" x="326">MiCOL16A</text></g>
<g transform="rotate(-23.5)"><polyline class="ld" points="310,-9.7 320,-10 323,0"/><text class="t cm" x="326">MiCOL5A</text></g>
<g transform="rotate(-19)"><polyline class="ld" points="310,3.8 320,3.9 323,0"/><text class="t cm" x="326">MiCOL1B</text></g>
<g transform="rotate(-13)"><polyline class="ld" points="310,10.8 320,11.2 323,0"/><text class="t cm" x="326">MiCOL11</text></g>
<g transform="rotate(-5.7)"><polyline class="ld" points="310,11.9 320,12.3 323,0"/><text class="t cm" x="326">MiCOL16B</text></g>
<g transform="rotate(9.8)"><polyline class="ld" points="310,-17.3 320,-17.9 323,0"/><text class="t cm" x="326">MiCOL1</text></g>
<g transform="rotate(16.8)"><polyline class="ld" points="310,1.1 320,1.1 323,0"/><text class="t cm" x="326">MiCOL16B</text></g>
<g transform="rotate(19.8)"><polyline class="ld" points="310,-9.7 320,-10 323,0"/><text class="t cm" x="326">MiAPRR9</text></g>
<g transform="rotate(25)"><polyline class="ld" points="310,16.2 320,16.8 323,0"/><text class="t cm" x="326">MiCOL7A</text></g>
<g transform="rotate(32.5)"><polyline class="ld" points="310,29.8 320,30.7 323,0"/><text class="t cm" x="326">MiCOL6B</text></g>
<g transform="rotate(35.5)"><polyline class="ld" points="310,18.9 320,19.5 323,0"/><text class="t cm" x="326">MiCOL10</text></g>
<g transform="rotate(41)"><polyline class="ld" points="310,0 323,0"/><text class="t cm" x="326">MiCOL15B</text></g>
<g transform="rotate(44.5)"><polyline class="ld" points="310,18.9 320,19.5 323,0"/><text class="t cm" x="326">MiCOL9B</text></g>
<g transform="rotate(47)"><polyline class="ld" points="310,10.8 320,11.2 323,0"/><text class="t cm" x="326">MiCOL13</text></g>
<g transform="rotate(49.5)"><polyline class="ld" points="310,2.7 320,2.8 323,0"/><text class="t cm" x="326">MiCOL9C</text></g>
<g transform="rotate(52)"><polyline class="ld" points="310,27 320,27.9 323,0"/><text class="t cm" x="326">MiCOL11</text></g>
<g transform="rotate(54.5)"><polyline class="ld" points="310,18.9 320,19.5 323,0"/><text class="t cm" x="326">MiCOL3</text></g>
<g transform="rotate(57)"><polyline class="ld" points="310,10.8 320,11.2 323,0"/><text class="t cm" x="326">MiCOL15C</text></g>
<g transform="rotate(59.5)"><polyline class="ld" points="310,2.7 320,2.8 323,0"/><text class="t cm" x="326">MiCOL6C</text></g>
<g transform="rotate(63)"><polyline class="ld" points="310,21.6 320,22.3 323,0"/><text class="t cm" x="326">MiCOL7B</text></g>
<g transform="rotate(66)"><polyline class="ld" points="310,8.1 320,8.4 323,0"/><text class="t cm" x="326">MiCOL5C</text></g>
<g transform="rotate(69)"><polyline class="ld" points="310,-5.4 320,-5.6 323,0"/><text class="t cm" x="326">MiCOL2B</text></g>
<g transform="rotate(76)"><polyline class="ld" points="310,-2.7 320,-2.8 323,0"/><text class="t cm" x="326">MiCOL9A</text></g>
<g transform="rotate(80.5)"><polyline class="ld" points="310,8.1 320,8.4 323,0"/><text class="t cm" x="326">MiCOL5A</text></g>
<g transform="rotate(83.5)"><polyline class="ld" points="310,5.4 320,5.6 323,0"/><text class="t cm" x="326">MiCOL4A</text></g>
<g transform="rotate(86)"><polyline class="ld" points="310,-2.7 320,-2.8 323,0"/><text class="t cm" x="326">MiCOL16A</text></g>
<g transform="rotate(88.5)"><polyline class="ld" points="310,2.7 320,2.8 323,0"/><text class="t cm" x="326">MiHD1</text></g>
<g transform="rotate(91)"><polyline class="ld" points="310,-2.7 320,-2.8 323,0"/><text class="t cm" x="326">MiCOL6A</text></g>
<g transform="rotate(94)"><polyline class="ld" points="310,-10.8 320,-11.2 323,0"/><text class="t cm e" transform="rotate(180)" x="-326">MiCOL15A</text></g>
<g transform="rotate(96.5)"><polyline class="ld" points="310,-16.2 320,-16.8 323,0"/><text class="t cm e" transform="rotate(180)" x="-326">MiCO</text></g>
<g transform="rotate(100.5)"><polyline class="ld" points="310,-10.8 320,-11.2 323,0"/><text class="t cm e" transform="rotate(180)" x="-326">MiCOL2A</text></g>
<g transform="rotate(107)"><polyline class="ld" points="310,-4.3 320,-4.5 323,0"/><text class="t cm e" transform="rotate(180)" x="-326">MiCOL5B</text></g>
<g transform="rotate(113.5)"><polyline class="ld" points="310,0 323,0"/><text class="t cm e" transform="rotate(180)" x="-326">MiCOL4B</text></g>
<g transform="rotate(121)"><polyline class="ld" points="310,-2.2 320,-2.2 323,0"/><text class="t cm e" transform="rotate(180)" x="-326">MiCOL16C</text></g>
<g transform="rotate(124.5)"><polyline class="ld" points="310,13.5 320,14 327,0"/><text class="t cn e" transform="rotate(180)" x="-330">Manin01g001720.1</text></g>
<g transform="rotate(127.5)"><polyline class="ld" points="310,5.4 320,5.6 327,0"/><text class="t cn e" transform="rotate(180)" x="-330">Manin01g009220.1</text></g>
<g transform="rotate(133)"><polyline class="ld" points="310,10.8 320,11.2 327,0"/><text class="t cn e" transform="rotate(180)" x="-330">Manin03g008710.1</text></g>
<g transform="rotate(135.5)"><polyline class="ld" points="310,5.4 320,5.6 327,0"/><text class="t cn e" transform="rotate(180)" x="-330">Manin03g008710.1</text></g>
<g transform="rotate(138.2)"><polyline class="ld" points="310,-1.1 320,-1.1 327,0"/><text class="t cn e" transform="rotate(180)" x="-330">Manin03g009510.1</text></g>
<g transform="rotate(144)"><polyline class="ld" points="310,10.8 320,11.2 327,0"/><text class="t cn e" transform="rotate(180)" x="-330">Manin04g001950.1</text></g>
<g transform="rotate(150)"><polyline class="ld" points="308.4,31.3 318.4,32.3 327,0"/><text class="t cn e" transform="rotate(180)" x="-330">Manin05g010250.1</text></g>
<g transform="rotate(156.3)"><polyline class="ld" points="307.9,36.2 317.8,37.3 327,0"/><text class="t cn e" transform="rotate(180)" x="-330">Manin07g007100.1</text></g>
<g transform="rotate(159)"><polyline class="ld" points="304.8,56.5 314.6,58.3 327,0"/><text class="t cn e" transform="rotate(180)" x="-330">Manin08g009000.1</text></g>
<g transform="rotate(161.9)"><polyline class="ld" points="302,70.3 311.7,72.5 327,0"/><text class="t cn e" transform="rotate(180)" x="-330">Manin09g000170.1</text></g>
<g transform="rotate(164.9)"><polyline class="ld" points="304.7,57 314.5,58.9 327,0"/><text class="t cn e" transform="rotate(180)" x="-330">Manin09g000790.1</text></g>
<g transform="rotate(167.6)"><polyline class="ld" points="306.7,45.3 316.6,46.8 327,0"/><text class="t cn e" transform="rotate(180)" x="-330">Manin09g003710.1</text></g>
<g transform="rotate(171.9)"><polyline class="ld" points="308.8,27.6 318.7,28.4 327,0"/><text class="t cn e" transform="rotate(180)" x="-330">Manin09g014800.1</text></g>
<g transform="rotate(174.7)"><polyline class="ld" points="310,15.1 320,15.6 327,0"/><text class="t cn e" transform="rotate(180)" x="-330">Manin09g014800.1</text></g>
<g transform="rotate(177.5)"><polyline class="ld" points="305.7,51.2 315.6,52.8 327,0"/><text class="t cn e" transform="rotate(180)" x="-330">Manin10g003060.1</text></g>
<g transform="rotate(180.6)"><polyline class="ld" points="303.9,61.3 313.7,63.3 327,0"/><text class="t cn e" transform="rotate(180)" x="-330">Manin11g005200.1</text></g>
<g transform="rotate(183.4)"><polyline class="ld" points="305.7,51.7 315.5,53.4 327,0"/><text class="t cn e" transform="rotate(180)" x="-330">Manin11g008900.1</text></g>
<g transform="rotate(186)"><polyline class="ld" points="307.3,40.5 317.3,41.8 327,0"/><text class="t cn e" transform="rotate(180)" x="-330">Manin11g008900.1</text></g>
<g transform="rotate(188.6)"><polyline class="ld" points="308.6,29.2 318.6,30.1 327,0"/><text class="t cn e" transform="rotate(180)" x="-330">Manin11g010050.1</text></g>
<g transform="rotate(191.2)"><polyline class="ld" points="310,17.9 320,18.4 327,0"/><text class="t cn e" transform="rotate(180)" x="-330">Manin11g010250.1</text></g>
<g transform="rotate(193.8)"><polyline class="ld" points="310,6.5 320,6.7 327,0"/><text class="t cn e" transform="rotate(180)" x="-330">Manin11g012280.1</text></g>
<g transform="rotate(196.4)"><polyline class="ld" points="310,-2.2 320,-2.2 327,0"/><text class="t cn e" transform="rotate(180)" x="-330">Manin11g013030.1</text></g>
<g transform="rotate(199.4)"><polyline class="ld" points="310,3.2 320,3.4 327,0"/><text class="t cn e" transform="rotate(180)" x="-330">Manin12g001270.1</text></g>
<g transform="rotate(202)"><polyline class="ld" points="310,-2.7 320,-2.8 327,0"/><text class="t cn e" transform="rotate(180)" x="-330">Manin12g001850.1</text></g>
<g transform="rotate(204.6)"><polyline class="ld" points="310,-8.7 320,-8.9 327,0"/><text class="t cn e" transform="rotate(180)" x="-330">Manin12g004230.1</text></g>
<g transform="rotate(207.2)"><polyline class="ld" points="310,-14.6 320,-15.1 327,0"/><text class="t cn e" transform="rotate(180)" x="-330">Manin12g008360.1</text></g>
<g transform="rotate(209.8)"><polyline class="ld" points="310,1.1 320,1.1 327,0"/><text class="t cn e" transform="rotate(180)" x="-330">Manin16g007020.1</text></g>
<g transform="rotate(212.4)"><polyline class="ld" points="310,-2.2 320,-2.2 327,0"/><text class="t cn e" transform="rotate(180)" x="-330">Manin16g008040.1</text></g>
<g transform="rotate(215)"><polyline class="ld" points="310,-5.4 320,-5.6 327,0"/><text class="t cn e" transform="rotate(180)" x="-330">Manin16g011650.1</text></g>
<g transform="rotate(219.5)"><polyline class="ld" points="310,0 327,0"/><text class="t cn e" transform="rotate(180)" x="-330">Manin17g006510.1</text></g>
<g transform="rotate(229.5)"><polyline class="ld" points="310,-8.1 320,-8.4 327,0"/><text class="t cn e" transform="rotate(180)" x="-330">Manin19g012090.1</text></g>
<g transform="rotate(234.5)"><polyline class="ld" points="310,8.1 320,8.4 327,0"/><text class="t cn e" transform="rotate(180)" x="-330">Manin20g000010.1</text></g>
<g transform="rotate(250)"><polyline class="ld" points="310,-16.2 320,-16.8 323,0"/><text class="t cm e" transform="rotate(180)" x="-326">MiCOL1A</text></g>
<g transform="rotate(256)"><polyline class="ld" points="310,10.8 320,11.2 323,0"/><text class="t cm e" transform="rotate(180)" x="-326">MiCOL3A</text></g>
<g transform="rotate(259)"><polyline class="ld" points="310,2.7 320,2.8 323,0"/><text class="t cm e" transform="rotate(180)" x="-326">MiCOL6</text></g>
<g transform="rotate(265.2)"><polyline class="ld" points="310,9.7 320,10 323,0"/><text class="t cm e" transform="rotate(180)" x="-326">MiCOL17</text></g>
<g transform="rotate(-87.8)"><polyline class="ld" points="310,26 320,26.8 323,0"/><text class="t cm e" transform="rotate(180)" x="-326">MiCOL16C</text></g>
<g transform="rotate(-84.5)"><polyline class="ld" points="310,13.5 320,14 323,0"/><text class="t cm e" transform="rotate(180)" x="-326">MiCOL10</text></g>
</g>
</g>
</svg>
